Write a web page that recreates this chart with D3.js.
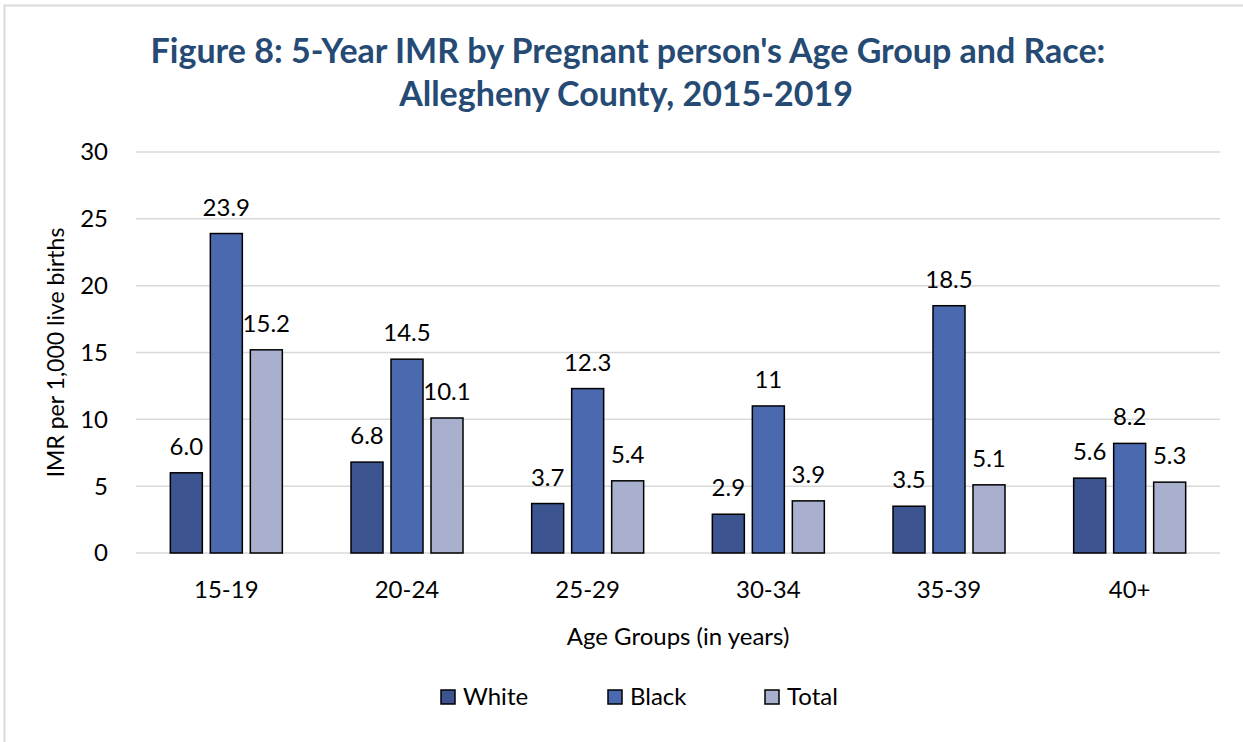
<!DOCTYPE html>
<html lang="en">
<head>
  <meta charset="UTF-8">
  <title>Figure 8</title>
  <style>
    body { margin: 0; background: #fff; }
    text { font-family: Lato, "Open Sans", sans-serif; }
  </style>
</head>
<body>
  <svg width="1243" height="742"></svg>
  <script src="https://cdnjs.cloudflare.com/ajax/libs/d3/7.8.5/d3.min.js"></script>
  <script>
    var ageGroups = ["15-19", "20-24", "25-29", "30-34", "35-39", "40+"];
    var seriesNames = ["White", "Black", "Total"];
    var whiteVals = [6.0, 6.8, 3.7, 2.9, 3.5, 5.6];
    var blackVals = [23.9, 14.5, 12.3, 11, 18.5, 8.2];
    var totalVals = [15.2, 10.1, 5.4, 3.9, 5.1, 5.3];
    var labelText = {
      White: ["6.0", "6.8", "3.7", "2.9", "3.5", "5.6"],
      Black: ["23.9", "14.5", "12.3", "11", "18.5", "8.2"],
      Total: ["15.2", "10.1", "5.4", "3.9", "5.1", "5.3"]
    };
    var yTicks = [0, 5, 10, 15, 20, 25, 30];
    var colors = ["#3c5590", "#4a69ae", "#a9b0cd"];

    var valsBySeries = { White: whiteVals, Black: blackVals, Total: totalVals };

    var svg = d3.select("svg");
    var margin = { left: 136, right: 23, top: 152, bottom: 189 };
    var width = 1243 - margin.left - margin.right,
        height = 742 - margin.top - margin.bottom;

    // outer frame
    svg.append("rect")
      .attr("x", 4.5).attr("y", 5.5)
      .attr("width", 1250).attr("height", 760)
      .attr("fill", "none").attr("stroke", "#d9d9d9").attr("stroke-width", 2);

    svg.append("text")
      .attr("x", 628).attr("y", 63)
      .attr("text-anchor", "middle")
      .attr("font-size", 34).attr("font-weight", "bold")
      .attr("fill", "#254a74")
      .text("Figure 8: 5-Year IMR by Pregnant person's Age Group and Race:");
    svg.append("text")
      .attr("x", 626).attr("y", 106)
      .attr("text-anchor", "middle")
      .attr("font-size", 34).attr("font-weight", "bold")
      .attr("fill", "#254a74")
      .text("Allegheny County, 2015-2019");

    var g = svg.append("g").attr("transform", "translate(" + margin.left + "," + margin.top + ")");

    var x = d3.scaleBand().domain(ageGroups).range([0, width]);
    var y = d3.scaleLinear().domain([0, 30]).range([height, 0]);
    var xs = d3.scaleBand().domain(seriesNames).range([x.bandwidth() / 2 - 56, x.bandwidth() / 2 + 56]).paddingInner(0.2);

    // gridlines
    g.append("g")
      .selectAll("line")
      .data(yTicks)
      .enter().append("line")
      .attr("x1", 0).attr("x2", width)
      .attr("y1", d => y(d)).attr("y2", d => y(d))
      .attr("stroke", "#d9d9d9").attr("stroke-width", 1.5);

    // y tick labels
    g.append("g")
      .selectAll("text")
      .data(yTicks)
      .enter().append("text")
      .attr("x", -28).attr("y", d => y(d))
      .attr("dy", "0.35em")
      .attr("text-anchor", "end")
      .attr("font-size", 24).attr("fill", "#000")
      .text(d => d);

    // x tick labels
    g.append("g")
      .selectAll("text")
      .data(ageGroups)
      .enter().append("text")
      .attr("x", d => x(d) + x.bandwidth() / 2)
      .attr("y", height + 45)
      .attr("text-anchor", "middle")
      .attr("font-size", 24).attr("fill", "#000")
      .text(d => d);

    var series = g.selectAll(".series")
      .data(seriesNames)
      .enter().append("g")
      .attr("class", "series");

    series.each(function(s, si) {
      var sel = d3.select(this);
      var vals = valsBySeries[s];
      sel.selectAll("rect")
        .data(vals)
        .enter().append("rect")
        .attr("x", (d, i) => x(ageGroups[i]) + xs(s))
        .attr("y", d => y(d))
        .attr("width", xs.bandwidth())
        .attr("height", d => height - y(d))
        .attr("fill", colors[si])
        .attr("stroke", "#000").attr("stroke-width", 1.5);
      sel.selectAll("text")
        .data(vals)
        .enter().append("text")
        .attr("x", (d, i) => x(ageGroups[i]) + xs(s) + xs.bandwidth() / 2)
        .attr("y", d => y(d) - 18)
        .attr("text-anchor", "middle")
        .attr("font-size", 24).attr("fill", "#000")
        .text((d, i) => labelText[s][i]);
    });

    // axis titles
    svg.append("text")
      .attr("transform", "translate(64," + (margin.top + height / 2) + ") rotate(-90)")
      .attr("text-anchor", "middle")
      .attr("font-size", 23).attr("fill", "#000")
      .text("IMR per 1,000 live births");

    svg.append("text")
      .attr("x", margin.left + width / 2).attr("y", 645)
      .attr("text-anchor", "middle")
      .attr("font-size", 24).attr("fill", "#000")
      .text("Age Groups (in years)");

    // legend
    var legendX = [441, 608, 765];
    var legend = svg.append("g").selectAll("g")
      .data(seriesNames)
      .enter().append("g")
      .attr("transform", (d, i) => "translate(" + legendX[i] + ",690)");
    legend.append("rect")
      .attr("width", 14).attr("height", 14)
      .attr("fill", (d, i) => colors[i])
      .attr("stroke", "#000").attr("stroke-width", 1.5);
    legend.append("text")
      .attr("x", 22).attr("y", 7).attr("dy", "0.35em")
      .attr("font-size", 24).attr("fill", "#000")
      .text(d => d);
  </script>
</body>
</html>
